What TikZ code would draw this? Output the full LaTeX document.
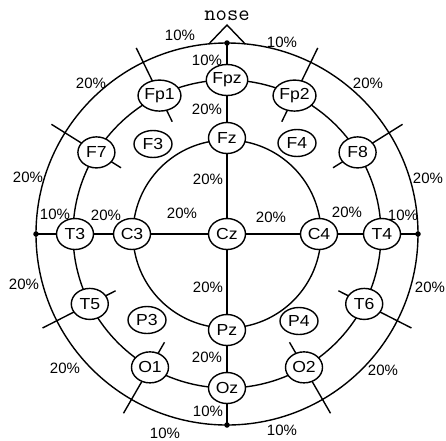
\documentclass[tikz,border=0pt]{standalone}
\usepackage{fontspec}
\setmainfont{Liberation Sans}
\newfontfamily\elfont[FakeStretch=1.1]{Liberation Sans}
\usetikzlibrary{shapes.geometric}

\begin{document}
\begin{tikzpicture}[x=1pt, y=1pt, line width=1.4pt,
  elec/.style={ellipse, draw, fill=white, minimum width=37pt, minimum height=31pt,
    inner sep=0pt, font=\elfont\fontsize{16}{16}\selectfont},
  freeelec/.style={elec, minimum width=38pt, minimum height=27pt},
  pct/.style={inner sep=0pt, font=\fontsize{15}{15}\selectfont},
  pole/.style={circle, fill, inner sep=0pt, minimum size=5.5pt}]
\useasboundingbox (-227,-206) rectangle (219,234);

% head outline and the two electrode rings
\coordinate (ctr) at (0,0);
\draw (ctr) circle (191pt);
\draw (ctr) circle (154pt);
\draw (ctr) circle (94pt);

% nasion/inion and preauricular points
\coordinate (nasion) at (90:191);
\coordinate (inion) at (270:191);
\coordinate (lpa) at (180:191);
\coordinate (rpa) at (0:191);
\draw (lpa) -- (rpa);
\draw (nasion) -- (inion);

% radial guides through the lateral electrodes
\foreach \nm/\a in {Fp1/116, Fp2/64, F7/148, F8/32, T5/207, T6/333, O1/240, O2/300}{
  \coordinate (\nm in) at (\a:125);
  \coordinate (\nm out) at (\a:207);
  \draw (\nm in) -- (\nm out);
}

% nose
\coordinate (noseL) at (-18,190.2);
\coordinate (noseTip) at (0,209);
\coordinate (noseR) at (18,190.2);
\draw (noseL) -- (noseTip) -- (noseR);
\node[font=\ttfamily\fontsize{22}{22}\selectfont, inner sep=0pt] (nose) at (0,218) {nose};

% electrodes on the 10% ring
\node[elec] (Fpz) at (90:154) {Fpz};
\node[elec] (Fp1) at (116:154) {Fp1};
\node[elec] (Fp2) at (64:154) {Fp2};
\node[elec] (F7) at (148:154) {F7};
\node[elec] (F8) at (32:154) {F8};
\node[elec] (T3) at (180:152) {T3};
\node[elec] (T4) at (0:155) {T4};
\node[elec] (T5) at (207:154) {T5};
\node[elec] (T6) at (333:154) {T6};
\node[elec] (O1) at (240:154) {O1};
\node[elec] (O2) at (300:154) {O2};
\node[elec] (Oz) at (270:154) {Oz};

% electrodes on the inner ring and the vertex
\node[elec] (Fz) at (90:96) {Fz};
\node[elec] (Pz) at (270:96) {Pz};
\node[elec] (C3) at (180:95) {C3};
\node[elec] (C4) at (0:92) {C4};
\node[elec] (Cz) at (0,0) {Cz};

% electrodes off the lines
\node[freeelec] (F3) at (-74,90) {F3};
\node[freeelec] (F4) at (70,91) {F4};
\node[freeelec] (P3) at (-80,-86) {P3};
\node[freeelec] (P4) at (72,-87) {P4};

% reference points
\node[pole] (pN) at (nasion) {};
\node[pole] (pI) at (inion) {};
\node[pole] (pL) at (lpa) {};
\node[pole] (pR) at (rpa) {};

% distance labels
\node[pct] (d1) at (-47,199) {10\%};
\node[pct] (d2) at (55,192) {10\%};
\node[pct] (d3) at (-20,174) {10\%};
\node[pct] (d4) at (-20,125) {20\%};
\node[pct] (d5) at (-136,151) {20\%};
\node[pct] (d6) at (141,151) {20\%};
\node[pct] (d7) at (-199,57) {20\%};
\node[pct] (d8) at (201,56) {20\%};
\node[pct] (d9) at (-172,20) {10\%};
\node[pct] (d10) at (-121,19) {20\%};
\node[pct] (d11) at (-45,21) {20\%};
\node[pct] (d12) at (44,17) {20\%};
\node[pct] (d13) at (120,22) {20\%};
\node[pct] (d14) at (176,19) {10\%};
\node[pct] (d15) at (-19,55) {20\%};
\node[pct] (d16) at (-19,-53) {20\%};
\node[pct] (d17) at (-203,-50) {20\%};
\node[pct] (d18) at (203,-53) {20\%};
\node[pct] (d19) at (-162,-134) {20\%};
\node[pct] (d20) at (156,-136) {20\%};
\node[pct] (d21) at (-20,-123) {20\%};
\node[pct] (d22) at (-19,-177) {10\%};
\node[pct] (d23) at (-62,-199) {10\%};
\node[pct] (d24) at (55,-196) {10\%};
\end{tikzpicture}
\end{document}
